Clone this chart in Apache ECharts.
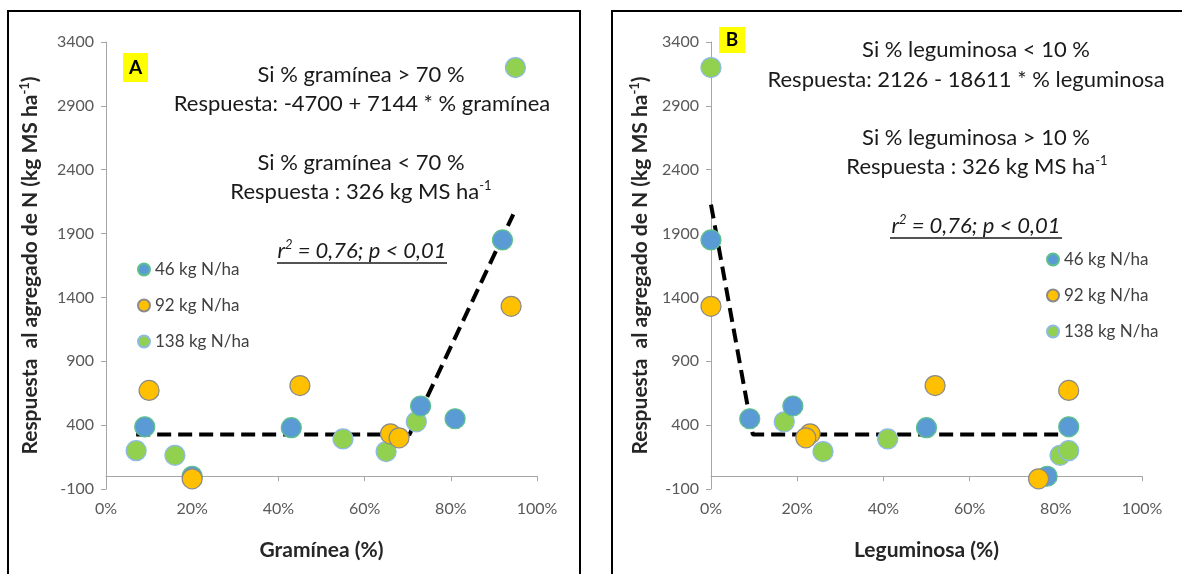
<!DOCTYPE html>
<html>
<head>
<meta charset="utf-8">
<script src="https://cdn.jsdelivr.net/npm/echarts@6/dist/echarts.min.js"></script>
<style>
html,body{margin:0;padding:0;background:#fff;}
#chart{width:1182px;height:574px;}
</style>
</head>
<body>
<div id="chart"></div>
<script>
// ---- Data ----
const seriesNames = ['46 kg N/ha', '92 kg N/ha', '138 kg N/ha'];

// Response to added N (kg MS/ha), same points in both panels
const resp46  = [1850, 450, 550, 380, 0, 387];
const gram46  = [92, 81, 73, 43, 20, 9];
const legu46  = [0, 9, 19, 50, 78, 83];

const resp92  = [1330, 710, 672, -20, 332, 301];
const gram92  = [94, 45, 10, 20, 66, 68];
const legu92  = [0, 52, 83, 76, 23, 22];

const resp138 = [3200, 426, 193, 292, 164, 200];
const gram138 = [95, 72, 65, 55, 16, 7];
const legu138 = [0, 17, 26, 41, 81, 83];

// Fitted piecewise models
const trendAX = [7, 70.4, 94.5];
const trendAY = [326, 326, 2051];
const trendBX = [0, 9.7, 82];
const trendBY = [2126, 326, 326];

const yMin = -100, yMax = 3400, yStep = 500;
const xMin = 0, xMax = 100, xStep = 20;

// ---- Build ----
const pairs = (xs, ys) => xs.map((x, i) => [x, ys[i]]);
const FONT = 'Lato';
const colors = {
  '46 kg N/ha':  {fill: '#5B9BD5', border: '#5CC08A'},
  '92 kg N/ha':  {fill: '#FFC000', border: '#8A8A8A'},
  '138 kg N/ha': {fill: '#92D050', border: '#8DB9E6'}
};

function axisX(idx, name) {
  return {
    type: 'value', gridIndex: idx, min: xMin, max: xMax, interval: xStep,
    name: name, nameLocation: 'middle', nameGap: 51,
    nameTextStyle: {fontFamily: FONT, fontWeight: 'bold', fontSize: 21, color: '#262626'},
    axisLine: {show: true, lineStyle: {color: '#A6A6A6', width: 1}},
    axisTick: {show: true, length: 5, lineStyle: {color: '#A6A6A6'}},
    axisLabel: {formatter: '{value}%', fontFamily: FONT, fontSize: 16, color: '#595959', margin: 12},
    splitLine: {show: false}
  };
}
function axisY(idx, gap) {
  return {
    type: 'value', gridIndex: idx, min: yMin, max: yMax, interval: yStep,
    name: '{b|Respuesta  al agregado de N (kg MS ha}{s|-1}{b|)}',
    nameLocation: 'middle', nameRotate: 90, nameGap: gap,
    nameTextStyle: {
      rich: {
        b: {fontFamily: FONT, fontWeight: 'bold', fontSize: 21, color: '#262626', lineHeight: 25},
        s: {fontFamily: FONT, fontWeight: 'bold', fontSize: 13, color: '#262626', lineHeight: 25, verticalAlign: 'top', padding: [0, 0, 9, 0]}
      }
    },
    axisLine: {show: true, lineStyle: {color: '#A6A6A6', width: 1}},
    axisTick: {show: true, length: 5, lineStyle: {color: '#A6A6A6'}},
    axisLabel: {formatter: (v) => String(v), fontFamily: FONT, fontSize: 16, color: '#595959', margin: 12},
    splitLine: {show: false}
  };
}

function scatter(name, idx, data) {
  return {
    name: name, type: 'scatter', xAxisIndex: idx, yAxisIndex: idx,
    data: data, symbol: 'circle', symbolSize: 20, z: 3,
    itemStyle: {color: colors[name].fill, borderColor: colors[name].border, borderWidth: 1.2, opacity: 1}
  };
}
function trend(idx, xs, ys) {
  return {
    type: 'line', xAxisIndex: idx, yAxisIndex: idx, data: pairs(xs, ys),
    showSymbol: false, symbol: 'none', silent: true, z: 2,
    lineStyle: {color: '#000', width: 4, type: [14, 7]}
  };
}

const FS = 22;
const txt = (x, y, text, size, extra) => Object.assign({
  type: 'text', x: x, y: y, z: 10,
  style: Object.assign({text: text, fontFamily: FONT, fontSize: size || FS, fill: '#1a1a1a', align: 'center', verticalAlign: 'middle'}, extra || {})
});
const supRich = {
  s: {fontFamily: FONT, fontSize: 13, fill: '#1a1a1a', verticalAlign: 'top', lineHeight: 13},
  n: {fontFamily: FONT, fontSize: FS, fill: '#1a1a1a', lineHeight: 25},
  i: {fontFamily: FONT, fontSize: FS, fontStyle: 'italic', fill: '#1a1a1a', lineHeight: 25},
  si: {fontFamily: FONT, fontSize: 13, fontStyle: 'italic', fill: '#1a1a1a', verticalAlign: 'top', lineHeight: 13}
};
const legendStyle = {fontFamily: FONT, fontSize: 17, color: '#404040'};

const chart = echarts.init(document.getElementById('chart'), null, {renderer: 'canvas'});
chart.setOption({
  backgroundColor: '#fff',
  animation: false,
  grid: [
    {left: 106, right: 645, top: 42, bottom: 85},
    {left: 711, right: 40, top: 42, bottom: 85}
  ],
  xAxis: [axisX(0, 'Gramínea (%)'), axisX(1, 'Leguminosa (%)')],
  yAxis: [axisY(0, 63), axisY(1, 58)],
  legend: [
    {data: seriesNames, orient: 'vertical', left: 137, top: 261, padding: 0, itemGap: 19, icon: 'circle',
     itemWidth: 12, itemHeight: 12, textStyle: legendStyle},
    {data: seriesNames, orient: 'vertical', left: 1046, top: 251, padding: 0, itemGap: 19, icon: 'circle',
     itemWidth: 12, itemHeight: 12, textStyle: legendStyle}
  ],
  series: [
    trend(0, trendAX, trendAY),
    trend(1, trendBX, trendBY),
    scatter('138 kg N/ha', 0, pairs(gram138, resp138)),
    scatter('46 kg N/ha', 0, pairs(gram46, resp46)),
    scatter('92 kg N/ha', 0, pairs(gram92, resp92)),
    scatter('138 kg N/ha', 1, pairs(legu138, resp138)),
    scatter('46 kg N/ha', 1, pairs(legu46, resp46)),
    scatter('92 kg N/ha', 1, pairs(legu92, resp92))
  ],
  graphic: [
    {type: 'rect', shape: {x: 8, y: 11, width: 572, height: 600}, style: {fill: 'none', stroke: '#000', lineWidth: 2}, z: 0},
    {type: 'rect', shape: {x: 612, y: 11, width: 600, height: 600}, style: {fill: 'none', stroke: '#000', lineWidth: 2}, z: 0},
    {type: 'rect', shape: {x: 123, y: 53, width: 25, height: 29}, style: {fill: '#FFFF00'}, z: 5},
    txt(135.5, 68, 'A', 19, {fontWeight: 'bold', fill: '#000'}),
    {type: 'rect', shape: {x: 719, y: 27, width: 26, height: 26}, style: {fill: '#FFFF00'}, z: 5},
    txt(732, 40, 'B', 19, {fontWeight: 'bold', fill: '#000'}),
    // Panel A annotations
    txt(361, 75, 'Si % gramínea > 70 %'),
    txt(362, 104, 'Respuesta: -4700 + 7144 * % gramínea'),
    txt(361, 163, 'Si % gramínea < 70 %'),
    txt(361, 192, '{n|Respuesta : 326 kg MS ha}{s|-1}', FS, {rich: supRich}),
    txt(362, 251, '{i|r}{si|2}{i| = 0,76; p < 0,01}', FS, {rich: supRich}),
    {type: 'line', shape: {x1: 277, y1: 263, x2: 447, y2: 263}, style: {stroke: '#1a1a1a', lineWidth: 1.5}, z: 10},
    // Panel B annotations
    txt(976, 50, 'Si % leguminosa < 10 %'),
    txt(966, 80, 'Respuesta: 2126 - 18611 * % leguminosa'),
    txt(976, 138, 'Si % leguminosa > 10 %'),
    txt(977, 167, '{n|Respuesta : 326 kg MS ha}{s|-1}', FS, {rich: supRich}),
    txt(976, 226, '{i|r}{si|2}{i| = 0,76; p < 0,01}', FS, {rich: supRich}),
    {type: 'line', shape: {x1: 890, y1: 238, x2: 1062, y2: 238}, style: {stroke: '#1a1a1a', lineWidth: 1.5}, z: 10}
  ]
});
</script>
</body>
</html>
